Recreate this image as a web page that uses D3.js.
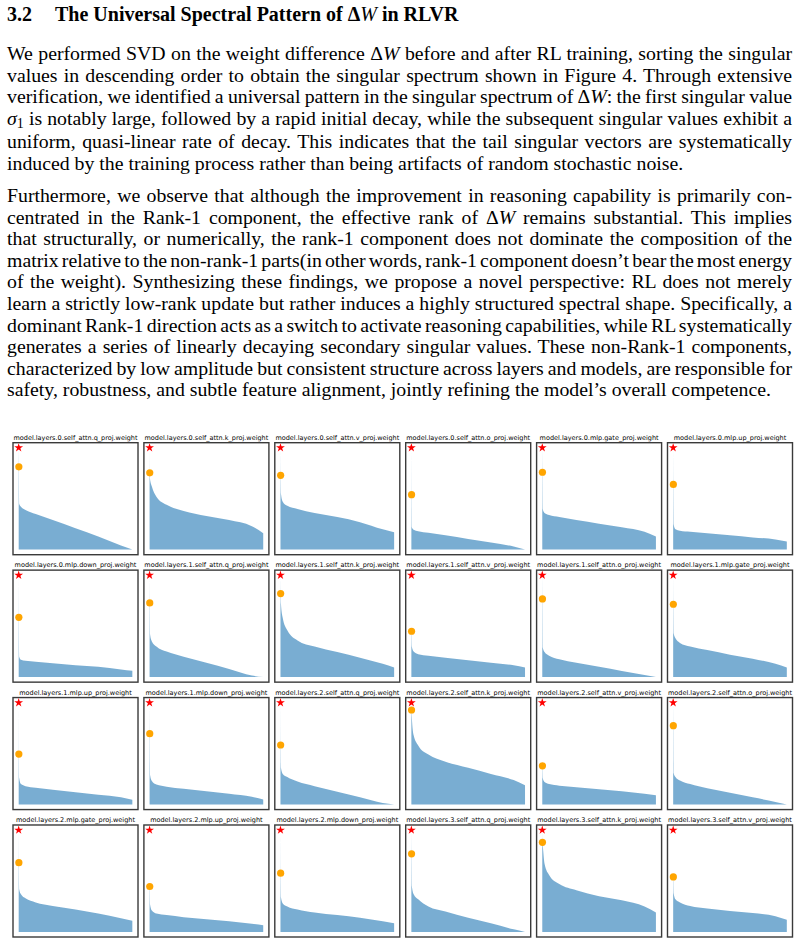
<!DOCTYPE html>
<html>
<head>
  <meta charset="utf-8">
  <script src="https://d3js.org/d3.v7.min.js"></script>
  <style>
    body { margin: 0; background: white; }
    .page { position: relative; width: 808px; height: 944px; overflow: hidden; }
    .txt { position: absolute; left: 7px; width: 785px; font-family: "Liberation Serif", serif; color: #000; }
    .heading { font-size: 20px; font-weight: bold; line-height: 24px; white-space: nowrap; }
    .heading .num { display: inline-block; width: 48px; }
    .para { font-size: 19.8px; line-height: 21.6px; }
    .line { white-space: nowrap; }
    .sub { font-size: 14px; position: relative; top: 3px; }
    svg { position: absolute; left: 0; top: 0; }
    .title { font-family: "DejaVu Sans", sans-serif; font-size: 6.5px; fill: #000; }
  </style>
</head>
<body>
<div class="page">
  <div class="txt heading" style="top:2px"><span class="num">3.2</span>The Universal Spectral Pattern of Δ<i style="font-weight:normal">W</i> in RLVR</div>

  <div class="txt para" style="top:43px">
    <div class="line">We performed SVD on the weight difference Δ<i>W</i> before and after RL training, sorting the singular</div>
    <div class="line">values in descending order to obtain the singular spectrum shown in Figure 4. Through extensive</div>
    <div class="line">verification, we identified a universal pattern in the singular spectrum of Δ<i>W</i>: the first singular value</div>
    <div class="line"><i>σ</i><span class="sub">1</span> is notably large, followed by a rapid initial decay, while the subsequent singular values exhibit a</div>
    <div class="line">uniform, quasi-linear rate of decay. This indicates that the tail singular vectors are systematically</div>
    <div class="line last">induced by the training process rather than being artifacts of random stochastic noise.</div>
  </div>

  <div class="txt para" style="top:185px">
    <div class="line">Furthermore, we observe that although the improvement in reasoning capability is primarily con-</div>
    <div class="line">centrated in the Rank-1 component, the effective rank of Δ<i>W</i> remains substantial. This implies</div>
    <div class="line">that structurally, or numerically, the rank-1 component does not dominate the composition of the</div>
    <div class="line">matrix relative to the non-rank-1 parts(in other words, rank-1 component doesn’t bear the most energy</div>
    <div class="line">of the weight). Synthesizing these findings, we propose a novel perspective: RL does not merely</div>
    <div class="line">learn a strictly low-rank update but rather induces a highly structured spectral shape. Specifically, a</div>
    <div class="line">dominant Rank-1 direction acts as a switch to activate reasoning capabilities, while RL systematically</div>
    <div class="line">generates a series of linearly decaying secondary singular values. These non-Rank-1 components,</div>
    <div class="line">characterized by low amplitude but consistent structure across layers and models, are responsible for</div>
    <div class="line last">safety, robustness, and subtle feature alignment, jointly refining the model’s overall competence.</div>
  </div>

  <svg id="chart"></svg>
</div>

<script type="text/javascript">
  // justify every full line by stretching or squeezing the word spaces (like TeX)
  var textWidth = 785;
  d3.selectAll(".line:not(.last)").each(function() {
    var el = d3.select(this).style("display", "inline-block");
    var w = this.getBoundingClientRect().width;
    var gaps = this.textContent.split(" ").length - 1;
    el.style("display", "block").style("word-spacing", ((textWidth - w) / gaps) + "px");
  });

  // panel titles, row by row
  var titles = [
    "model.layers.0.self_attn.q_proj.weight", "model.layers.0.self_attn.k_proj.weight",
    "model.layers.0.self_attn.v_proj.weight", "model.layers.0.self_attn.o_proj.weight",
    "model.layers.0.mlp.gate_proj.weight", "model.layers.0.mlp.up_proj.weight",
    "model.layers.0.mlp.down_proj.weight", "model.layers.1.self_attn.q_proj.weight",
    "model.layers.1.self_attn.k_proj.weight", "model.layers.1.self_attn.v_proj.weight",
    "model.layers.1.self_attn.o_proj.weight", "model.layers.1.mlp.gate_proj.weight",
    "model.layers.1.mlp.up_proj.weight", "model.layers.1.mlp.down_proj.weight",
    "model.layers.2.self_attn.q_proj.weight", "model.layers.2.self_attn.k_proj.weight",
    "model.layers.2.self_attn.v_proj.weight", "model.layers.2.self_attn.o_proj.weight",
    "model.layers.2.mlp.gate_proj.weight", "model.layers.2.mlp.up_proj.weight",
    "model.layers.2.mlp.down_proj.weight", "model.layers.3.self_attn.q_proj.weight",
    "model.layers.3.self_attn.k_proj.weight", "model.layers.3.self_attn.v_proj.weight"
  ];

  // sigma_1 normalised to 1, sigma_2 relative to it (orange dot)
  var sigma1 = 1;
  var sigma2 = [0.813, 0.754, 0.73, 0.54, 0.76, 0.64,
                0.587, 0.728, 0.82, 0.45, 0.767, 0.715,
                0.495, 0.695, 0.584, 0.928, 0.38, 0.774,
                0.68, 0.446, 0.577, 0.767, 0.88, 0.54];

  // position of sigma_2 and of the tail samples, as fraction of the rank
  var sigma2Pos = 0.0015;
  var tailPos = [0.004, 0.02, 0.06, 0.15, 0.3, 0.5, 0.7, 0.9, 1.0];

  // tail of the spectrum
  var tails = [
    [0.45, 0.42, 0.39, 0.35, 0.29, 0.21, 0.13, 0.04, 0.0],
    [0.69, 0.62, 0.52, 0.44, 0.38, 0.33, 0.29, 0.23, 0.16],
    [0.55, 0.47, 0.43, 0.40, 0.36, 0.32, 0.27, 0.20, 0.17],
    [0.22, 0.195, 0.18, 0.165, 0.14, 0.105, 0.07, 0.03, 0.0],
    [0.40, 0.36, 0.34, 0.32, 0.29, 0.255, 0.22, 0.175, 0.13],
    [0.25, 0.20, 0.185, 0.175, 0.16, 0.14, 0.12, 0.10, 0.08],
    [0.20, 0.17, 0.16, 0.15, 0.135, 0.115, 0.10, 0.075, 0.062],
    [0.42, 0.35, 0.30, 0.25, 0.20, 0.14, 0.08, 0.015, 0.0],
    [0.72, 0.58, 0.46, 0.36, 0.30, 0.245, 0.19, 0.13, 0.095],
    [0.30, 0.25, 0.225, 0.21, 0.19, 0.165, 0.14, 0.115, 0.095],
    [0.29, 0.245, 0.21, 0.175, 0.14, 0.10, 0.06, 0.02, 0.0],
    [0.43, 0.38, 0.335, 0.30, 0.265, 0.22, 0.18, 0.13, 0.095],
    [0.26, 0.20, 0.18, 0.165, 0.145, 0.12, 0.095, 0.07, 0.046],
    [0.29, 0.23, 0.195, 0.175, 0.155, 0.13, 0.105, 0.075, 0.05],
    [0.36, 0.30, 0.27, 0.225, 0.18, 0.125, 0.07, 0.015, 0.0],
    [0.86, 0.68, 0.58, 0.49, 0.42, 0.36, 0.30, 0.24, 0.19],
    [0.26, 0.22, 0.20, 0.185, 0.17, 0.15, 0.13, 0.105, 0.09],
    [0.31, 0.27, 0.235, 0.20, 0.16, 0.115, 0.07, 0.025, 0.0],
    [0.42, 0.37, 0.33, 0.29, 0.255, 0.22, 0.18, 0.135, 0.11],
    [0.27, 0.21, 0.18, 0.165, 0.145, 0.125, 0.105, 0.08, 0.066],
    [0.34, 0.28, 0.25, 0.22, 0.19, 0.165, 0.14, 0.105, 0.085],
    [0.45, 0.37, 0.32, 0.25, 0.20, 0.14, 0.085, 0.025, 0.0],
    [0.85, 0.67, 0.56, 0.47, 0.41, 0.35, 0.31, 0.25, 0.19],
    [0.38, 0.32, 0.29, 0.255, 0.23, 0.205, 0.185, 0.155, 0.12]
  ];

  var nCols = 6, nRows = 4;
  var svg = d3.select("#chart").attr("width", 808).attr("height", 944);

  var colScale = d3.scaleBand().domain(d3.range(nCols)).range([13, 792.5]).paddingInner(0.045);
  var rowScale = d3.scaleBand().domain(d3.range(nRows)).range([442.7, 937]).paddingInner(0.121);

  var pw = colScale.bandwidth(), ph = rowScale.bandwidth();
  // matplotlib-like 5% margins
  var x = d3.scaleLinear().domain([-0.05, 1.05]).range([0, pw]);
  var y = d3.scaleLinear().domain([-0.05 * sigma1, 1.05 * sigma1]).range([ph, 0]);

  var area = d3.area()
    .x(d => x(d[0]))
    .y0(y(0))
    .y1(d => y(d[1]))
    .curve(d3.curveMonotoneX);

  var panels = svg.selectAll("g.panel")
    .data(titles)
    .enter().append("g")
    .attr("class", "panel")
    .attr("transform", (d, i) => `translate(${colScale(i % nCols)},${rowScale(Math.floor(i / nCols))})`);

  panels.append("path")
    .attr("fill", "#1f77b4")
    .attr("fill-opacity", 0.6)
    .attr("d", (d, i) => {
      var pts = [[0, sigma1], [sigma2Pos, sigma2[i]]];
      tailPos.forEach((p, k) => pts.push([p, tails[i][k]]));
      return area(pts);
    });

  panels.append("rect")
    .attr("width", pw).attr("height", ph)
    .attr("fill", "none")
    .attr("stroke", "#3a3a3a")
    .attr("stroke-width", 1.4);

  panels.append("circle")
    .attr("cx", x(sigma2Pos))
    .attr("cy", (d, i) => y(sigma2[i]))
    .attr("r", 3.6)
    .attr("fill", "orange");

  panels.append("path")
    .attr("d", d3.symbol().type(d3.symbolStar).size(24))
    .attr("transform", `translate(${x(0)},${y(sigma1)})`)
    .attr("fill", "red");

  panels.append("text")
    .attr("class", "title")
    .attr("x", pw / 2)
    .attr("y", -3)
    .attr("text-anchor", "middle")
    .text(d => d);
</script>
</body>
</html>
